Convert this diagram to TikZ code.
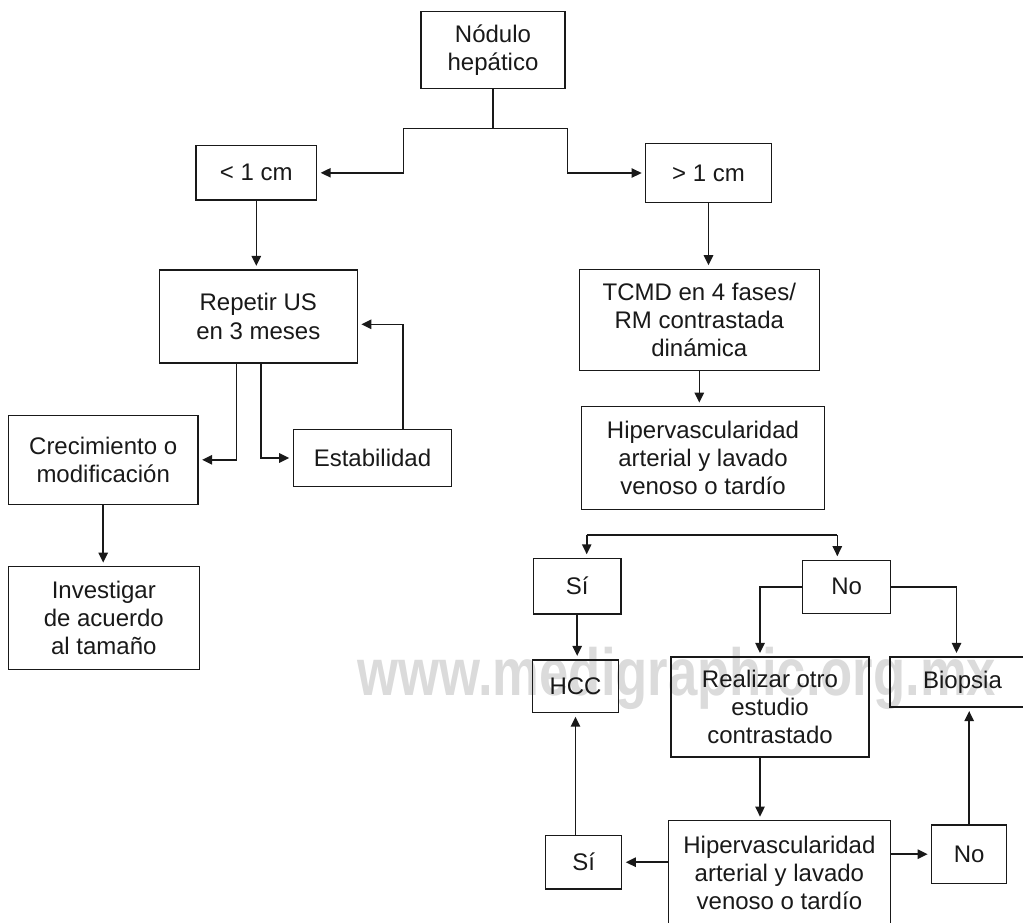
\documentclass[tikz,border=0pt]{standalone}
\usepackage{fontspec}
\setmainfont{Liberation Sans}
\usetikzlibrary{arrows.meta,calc}
\newcommand\boxfont{\fontsize{18}{21.2}\selectfont}
\begin{document}
\begin{tikzpicture}[x=0.75pt,y=-0.75pt,
  box/.style={draw=black!90, line width=1.1pt, inner sep=0pt, align=center, font=\boxfont, text=black!90},
  conn/.style={draw=black!90, line width=1.2pt},
  arr/.style={conn, -{Triangle[length=7.5pt,width=7pt]}, shorten >=2.5pt},
  wmark/.style={text=black!14, font=\fontsize{50}{50}\selectfont\bfseries, inner sep=0pt}]
\useasboundingbox (0,0) rectangle (1023,922);
\clip (0,0) rectangle (1023,922);

% watermark
\node[wmark, anchor=base west] (wm) at (357,695) {\scalebox{0.79}[1]{www.medigraphic.org.mx}};

% boxes
\node[box, minimum width=108pt, minimum height=57.45pt] (nod) at (493,50) {Nódulo\\hepático};
\node[box, minimum width=90.5pt, minimum height=40.7pt] (lt) at (256.3,172.8) {< 1 cm};
\node[box, minimum width=94.2pt, minimum height=44.55pt] (gt) at (708.5,173) {> 1 cm};
\node[box, minimum width=148.5pt, minimum height=69.75pt] (rep) at (258.3,316.5) {Repetir US\\en 3 meses};
\node[box, minimum width=142.3pt, minimum height=66.75pt] (cre) at (103.2,459.8) {Crecimiento o\\modificación};
\node[box, minimum width=118.8pt, minimum height=42.45pt] (est) at (372.5,458) {Estabilidad};
\node[box, minimum width=143.25pt, minimum height=76.95pt] (inv) at (103.8,618) {Investigar\\de acuerdo\\al tamaño};
\node[box, minimum width=180pt, minimum height=76.05pt] (tcmd) at (699.3,320) {TCMD en 4 fases/\\RM contrastada\\dinámica};
\node[box, minimum width=182.55pt, minimum height=76.95pt] (hip1) at (703,458) {Hipervascularidad\\arterial y lavado\\venoso o tardío};
\node[box, minimum width=65.8pt, minimum height=41.8pt] (si1) at (577.2,586.2) {Sí};
\node[box, minimum width=66pt, minimum height=39.75pt] (no1) at (846.7,586.8) {No};
\node[box, minimum width=64.2pt, minimum height=39.5pt] (hcc) at (575.5,686.3) {HCC};
\node[box, minimum width=148.5pt, minimum height=75pt] (real) at (770,707) {Realizar otro\\estudio\\contrastado};
\node[box, minimum width=108.75pt, minimum height=37.5pt] (bio) at (962.5,682) {Biopsia};
\node[box, minimum width=166.65pt, minimum height=78.45pt] (hip2) at (779.4,873) {Hipervascularidad\\arterial y lavado\\venoso o tardío};
\node[box, minimum width=57pt, minimum height=40.3pt] (si2) at (583.7,862.2) {Sí};
\node[box, minimum width=56.25pt, minimum height=43.7pt] (no2) at (969.2,854.2) {No};

% junction coordinates
\coordinate (j1) at (403.3,128.3);
\coordinate (j2) at (567.3,128.3);
\coordinate (b1) at (586.7,535);
\coordinate (b2) at (837.3,535);
\coordinate (r1) at ($(real.south)+(-10,0)$);

% connectors
\draw[conn] (nod.south) -- (nod.south |- j1);
\draw[conn] (j1) -- (j2);
\draw[arr] (j1) |- (lt.east);
\draw[arr] (j2) |- (gt.west);
\draw[arr] (lt.south) -- (lt.south |- rep.north);
\draw[arr] ($(rep.south)+(-22,0)$) |- (cre.east);
\draw[arr] ($(rep.south)+(2.4,0)$) |- (est.west);
\draw[arr] ($(est.north)+(30.5,0)$) |- ($(rep.east)+(0,7.8)$);
\draw[arr] (cre.south) -- (cre.south |- inv.north);
\draw[arr] (gt.south) -- (gt.south |- tcmd.north);
\draw[arr] (tcmd.south) -- (tcmd.south |- hip1.north);
\draw[conn] ($(hip1.south)+(-4,0)$) -- ($(hip1.south)+(-4,0)$ |- b1);
\draw[conn] (b1) -- (b2);
\draw[arr] (b1) -- (b1 |- si1.north);
\draw[arr] (b2) -- (b2 |- no1.north);
\draw[arr] (no1.west) -| ($(real.north)+(-10,0)$);
\draw[arr] (no1.east) -| ($(bio.north)+(-6,0)$);
\draw[arr] (si1.south) -- (si1.south |- hcc.north);
\draw[arr] (r1) -- (r1 |- hip2.north);
\draw[arr] (hip2.west |- si2.east) -- (si2.east);
\draw[arr] (hip2.east |- no2.west) -- (no2.west);
\draw[arr] (hcc.south |- si2.north) -- (hcc.south);
\draw[arr] (no2.north) -- (no2.north |- bio.south);
\end{tikzpicture}
\end{document}
